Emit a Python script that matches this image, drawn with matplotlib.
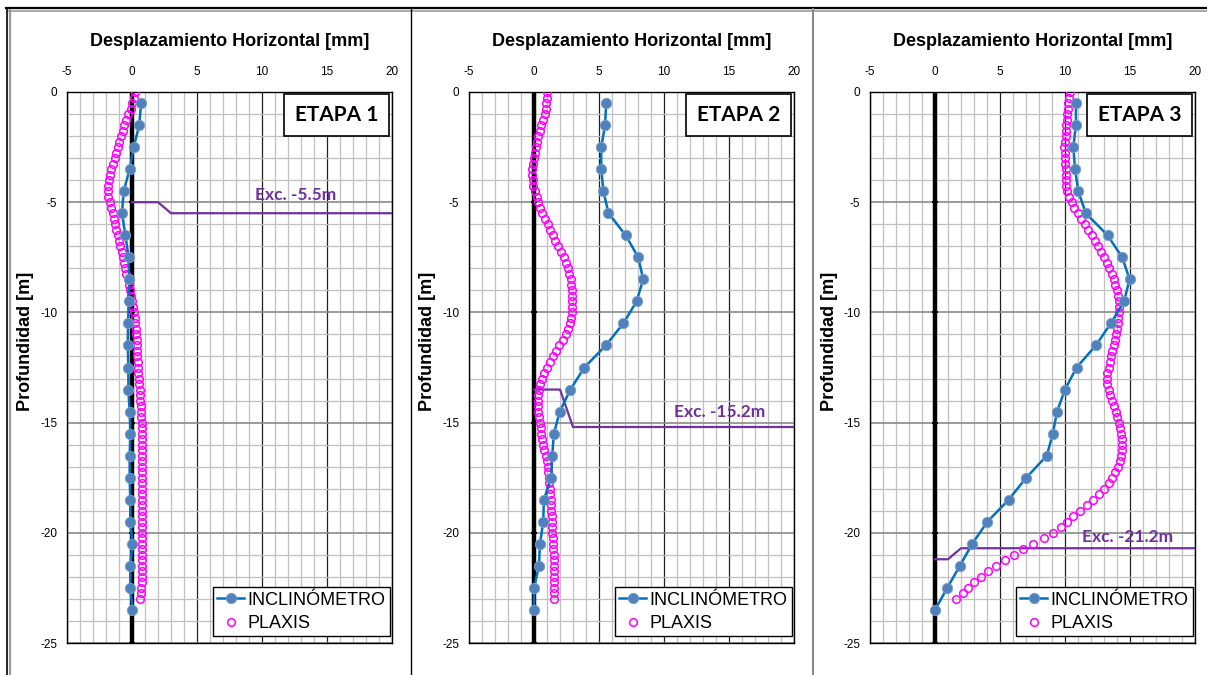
import numpy as np
import matplotlib
matplotlib.use("Agg")
import matplotlib.pyplot as plt
from matplotlib.lines import Line2D
from matplotlib.patches import Rectangle
from matplotlib.ticker import MultipleLocator

plt.rcParams["font.family"] = ["Liberation Sans", "DejaVu Sans"]
plt.rcParams["axes.unicode_minus"] = False

# inclinometer readings, one every metre (depth in m, displacement in mm)
incl_depth = [-0.5, -1.5, -2.5, -3.5, -4.5, -5.5, -6.5, -7.5, -8.5, -9.5, -10.5, -11.5,
              -12.5, -13.5, -14.5, -15.5, -16.5, -17.5, -18.5, -19.5, -20.5, -21.5, -22.5, -23.5]
incl_etapa1 = [0.70, 0.56, 0.13, -0.18, -0.64, -0.77, -0.51, -0.26, -0.22, -0.26, -0.30, -0.33,
               -0.28, -0.28, -0.18, -0.13, -0.18, -0.18, -0.13, -0.13, 0.03, -0.13, -0.13, 0.03]
incl_etapa2 = [5.55, 5.47, 5.17, 5.17, 5.34, 5.73, 7.05, 8.02, 8.40, 7.89, 6.87, 5.52,
               3.87, 2.80, 1.98, 1.53, 1.40, 1.32, 0.76, 0.71, 0.46, 0.38, 0.00, 0.00]
incl_etapa3 = [10.84, 10.84, 10.64, 10.77, 11.02, 11.60, 13.27, 14.40, 14.97, 14.54, 13.52, 12.37,
               10.89, 10.00, 9.39, 9.06, 8.60, 7.02, 5.66, 4.03, 2.86, 1.91, 0.94, 0.00]

# PLAXIS wall deflection, sampled every 0.25 m from 0 to -23 m
plaxis_depth = -np.arange(0, 23.01, 0.25)
plaxis_etapa1 = [
    0.20, 0.12, 0.02, -0.10, -0.28, -0.44, -0.58, -0.72, -0.85, -0.98,
    -1.10, -1.22, -1.34, -1.46, -1.58, -1.68, -1.76, -1.83, -1.87, -1.82,
    -1.72, -1.60, -1.50, -1.40, -1.30, -1.20, -1.10, -1.00, -0.90, -0.80,
    -0.72, -0.63, -0.53, -0.43, -0.33, -0.24, -0.15, -0.06, 0.02, 0.09,
    0.15, 0.20, 0.24, 0.28, 0.32, 0.35, 0.38, 0.40, 0.42, 0.44,
    0.45, 0.48, 0.52, 0.56, 0.60, 0.62, 0.64, 0.67, 0.70, 0.72,
    0.74, 0.76, 0.77, 0.77, 0.78, 0.77, 0.77, 0.78, 0.77, 0.77,
    0.77, 0.78, 0.77, 0.77, 0.77, 0.78, 0.77, 0.77, 0.77, 0.78,
    0.77, 0.77, 0.77, 0.78, 0.77, 0.77, 0.77, 0.77, 0.76, 0.74,
    0.72, 0.68, 0.60]
plaxis_etapa2 = [
    1.02, 1.00, 0.96, 0.90, 0.82, 0.70, 0.56, 0.44, 0.32, 0.20,
    0.12, 0.06, 0.01, -0.05, -0.12, -0.12, -0.10, -0.08, 0.05, 0.20,
    0.33, 0.48, 0.65, 0.85, 1.05, 1.25, 1.45, 1.65, 1.86, 2.07,
    2.27, 2.45, 2.60, 2.72, 2.81, 2.88, 2.92, 2.94, 2.94, 2.93,
    2.90, 2.84, 2.75, 2.63, 2.45, 2.22, 1.96, 1.70, 1.45, 1.22,
    1.02, 0.80, 0.60, 0.45, 0.35, 0.30, 0.28, 0.30, 0.33, 0.38,
    0.44, 0.50, 0.55, 0.62, 0.70, 0.80, 0.90, 0.98, 1.05, 1.10,
    1.15, 1.19, 1.23, 1.26, 1.28, 1.30, 1.32, 1.35, 1.37, 1.39,
    1.41, 1.43, 1.45, 1.47, 1.50, 1.52, 1.53, 1.53, 1.53, 1.53,
    1.53, 1.53, 1.53]
plaxis_etapa3 = [
    10.38, 10.32, 10.26, 10.21, 10.18, 10.14, 10.11, 10.09, 10.06, 10.00,
    9.95, 9.97, 10.00, 10.02, 10.04, 10.05, 10.07, 10.10, 10.17, 10.30,
    10.50, 10.72, 10.97, 11.22, 11.50, 11.78, 12.05, 12.32, 12.57, 12.80,
    13.02, 13.22, 13.42, 13.62, 13.76, 13.88, 13.99, 14.07, 14.13, 14.16,
    14.15, 14.11, 14.05, 13.98, 13.90, 13.82, 13.74, 13.65, 13.55, 13.45,
    13.35, 13.25, 13.20, 13.24, 13.35, 13.48, 13.62, 13.76, 13.90, 14.02,
    14.15, 14.25, 14.33, 14.38, 14.40, 14.38, 14.32, 14.20, 14.05, 13.85,
    13.62, 13.35, 13.00, 12.62, 12.18, 11.70, 11.17, 10.62, 10.12, 9.72,
    9.10, 8.35, 7.53, 6.78, 6.05, 5.35, 4.70, 4.05, 3.50, 3.00,
    2.55, 2.15, 1.65]

# excavation level markers
exc_labels = ["Exc. -5.5m", "Exc. -15.2m", "Exc. -21.2m"]
exc_x = [[0, 2, 3, 20], [0, 2, 3, 20], [0, 1, 2, 20]]
exc_y = [[-5.0, -5.0, -5.5, -5.5], [-13.5, -13.5, -15.2, -15.2], [-21.2, -21.2, -20.7, -20.7]]
exc_text_pos = [(12.6, -4.67), (14.25, -14.5), (14.8, -20.2)]

etapas = ["ETAPA 1", "ETAPA 2", "ETAPA 3"]
incl_series = [incl_etapa1, incl_etapa2, incl_etapa3]
plaxis_series = [plaxis_etapa1, plaxis_etapa2, plaxis_etapa3]

W, H = 1207, 675
fig = plt.figure(figsize=(W / 100, H / 100), dpi=100)

lefts = [67, 469, 870]
ylabel_x = [25, 427, 829]
ax_top, ax_bot, ax_w = 92, 643, 325

for i in range(3):
    ax = fig.add_axes([lefts[i] / W, 1 - ax_bot / H, ax_w / W, (ax_bot - ax_top) / H])
    ax.set_xlim(-5, 20)
    ax.set_ylim(-25, 0)
    ax.xaxis.set_major_locator(MultipleLocator(5))
    ax.xaxis.set_minor_locator(MultipleLocator(1))
    ax.yaxis.set_major_locator(MultipleLocator(5))
    ax.yaxis.set_minor_locator(MultipleLocator(1))
    ax.xaxis.tick_top()
    ax.tick_params(axis="both", which="both", length=0, labelsize=8.5)
    ax.tick_params(axis="x", pad=10)
    ax.tick_params(axis="y", pad=7)
    ax.grid(which="minor", color="#c0c0c0", lw=0.9)
    ax.grid(which="major", axis="x", color="#202020", lw=0.9)
    ax.grid(which="major", axis="y", color="#8a8a8a", lw=1.2)
    ax.set_axisbelow(True)
    for s in ax.spines.values():
        s.set_color("black")
        s.set_linewidth(1.0)

    # wall line at x = 0 with small depth ticks
    ax.plot([0, 0], [0, -25], color="black", lw=3.2, zorder=2, solid_capstyle="butt")
    ax.plot(np.zeros(6), [0, -5, -10, -15, -20, -25], ls="none", marker="_",
            ms=5, mew=1.5, color="black", zorder=2)

    ax.plot(exc_x[i], exc_y[i], color="#7030A0", lw=1.6, zorder=3)
    ax.text(*exc_text_pos[i], exc_labels[i], color="#7030A0", fontsize=12.5,
            fontweight="bold", family=["Lato", "DejaVu Sans"], ha="center", va="center",
            zorder=6)

    ax.plot(plaxis_series[i], plaxis_depth, ls="none", marker="o", ms=5.5,
            mfc="none", mec="#FF00FF", mew=1.1, zorder=4, label="PLAXIS")
    ax.plot(incl_series[i], incl_depth, color="#0070C0", lw=1.8, marker="o", ms=7.5,
            mfc="#4F81BD", mec="#7d9fc9", mew=0.6, zorder=5, label="INCLINÓMETRO")

    # stage box in upper right corner
    ax.add_patch(Rectangle((0.669, 0.921), 0.323, 0.076, transform=ax.transAxes,
                           facecolor="white", edgecolor="black", lw=1.2, zorder=7))
    ax.text(0.8305, 0.959, etapas[i], transform=ax.transAxes, fontsize=15,
            fontweight="bold", family=["Lato", "DejaVu Sans"], ha="center", va="center",
            zorder=8)

    h, l = ax.get_legend_handles_labels()
    leg = ax.legend(h[::-1], l[::-1], loc="lower right", bbox_to_anchor=(0.995, 0.012),
                    borderaxespad=0, fontsize=13, frameon=True, fancybox=False,
                    edgecolor="black", framealpha=1, handlelength=1.5, handletextpad=0.2,
                    borderpad=0.25, labelspacing=0.35)
    leg.get_frame().set_linewidth(1.0)
    leg.set_zorder(9)

    ax.text(0.5, 1 + 51 / 551, "Desplazamiento Horizontal [mm]", transform=ax.transAxes,
            fontsize=13, fontweight="bold", ha="center", va="center")
    fig.text(ylabel_x[i] / W, 1 - 341 / H, "Profundidad [m]", rotation=90, fontsize=13,
             fontweight="bold", ha="center", va="center")

# panel frames
def fline(xs, ys, **kw):
    fig.add_artist(Line2D([x / W for x in xs], [1 - y / H for y in ys],
                          transform=fig.transFigure, **kw))

fline([6, W], [8, 8], color="black", lw=1.6)
fline([9, W], [10.5, 10.5], color="#9a9a9a", lw=1.2)
fline([7, 7], [8, H], color="black", lw=1.2)
fline([9.5, 9.5], [10, H], color="#9a9a9a", lw=1.6)
fline([411, 411], [9, H], color="black", lw=1.0)
fline([813, 813], [9, H], color="#8a8a8a", lw=1.5)

fig.savefig("out.png", dpi=100)
